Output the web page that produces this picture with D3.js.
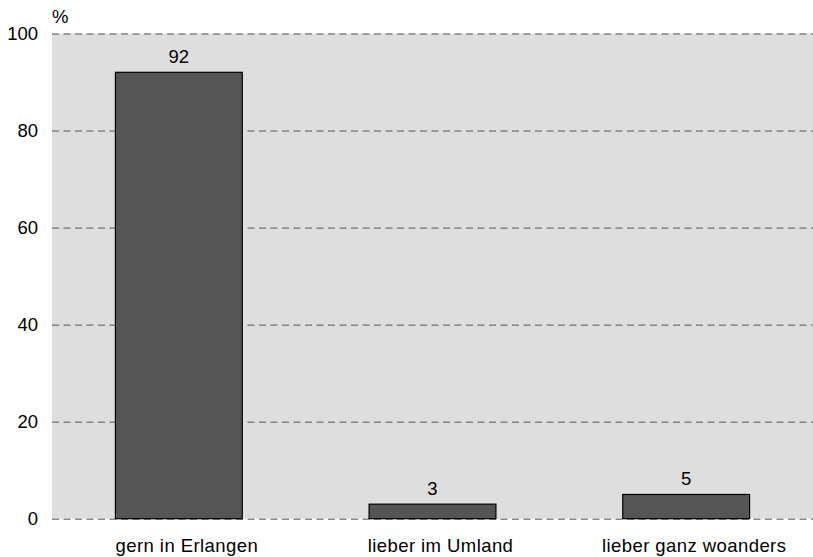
<!DOCTYPE html>
<html><head><meta charset="utf-8">
<script src="https://cdn.jsdelivr.net/npm/d3@7"></script>
<style>body{margin:0;background:#fff}text{font-family:"Liberation Sans",Arial,sans-serif;fill:#000}</style>
</head><body><svg id="c" width="813" height="557"></svg>
<script>
const categories = ["gern in Erlangen", "lieber im Umland", "lieber ganz woanders"];
const values = [92, 3, 5];
const yTicks = [0, 20, 40, 60, 80, 100];
const yUnit = "%";

const svg = d3.select("#c");
const mLeft = 52, mRight = 813, mTop = 33.5, mBottom = 518.7;
const x = d3.scaleBand().domain(categories).range([mLeft, mRight]).paddingInner(0.5).paddingOuter(0.25);
const y = d3.scaleLinear().domain([0, 100]).range([mBottom, mTop]);

svg.append("rect").attr("x", mLeft).attr("y", mTop).attr("width", mRight - mLeft).attr("height", mBottom - mTop).attr("fill", "#dedede");

const ya = svg.append("g").attr("transform", `translate(${mLeft},0)`)
  .call(d3.axisLeft(y).tickValues(yTicks).tickSize(-(mRight - mLeft)).tickPadding(14));
ya.select(".domain").remove();
ya.selectAll(".tick line").attr("stroke", "#555").attr("stroke-width", 1).attr("stroke-dasharray", "7,4.5");
ya.selectAll(".tick text").attr("font-size", "18.5px").attr("font-family", "Liberation Sans, Arial, sans-serif").attr("fill", "#000");

svg.append("text").attr("x", 52).attr("y", 23).attr("font-size", "18.5px").text(yUnit);

svg.selectAll("rect.bar").data(values).join("rect").attr("class", "bar")
  .attr("x", (d, i) => x(categories[i])).attr("width", x.bandwidth())
  .attr("y", d => y(d)).attr("height", d => y(0) - y(d))
  .attr("fill", "#555555").attr("stroke", "#000").attr("stroke-width", 1.2);

svg.selectAll("text.val").data(values).join("text").attr("class", "val")
  .attr("x", (d, i) => x(categories[i]) + x.bandwidth() / 2).attr("y", d => y(d) - 9.5)
  .attr("text-anchor", "middle").attr("font-size", "18.5px").text(d => d);

const xa = svg.append("g").attr("transform", `translate(0,${mBottom})`)
  .call(d3.axisBottom(x).tickSize(0).tickPadding(20));
xa.select(".domain").remove();
xa.selectAll(".tick text").attr("font-size", "18.5px").attr("font-family", "Liberation Sans, Arial, sans-serif")
  .attr("fill", "#000").attr("letter-spacing", "0.43px").attr("dx", 8);
</script></body></html>
